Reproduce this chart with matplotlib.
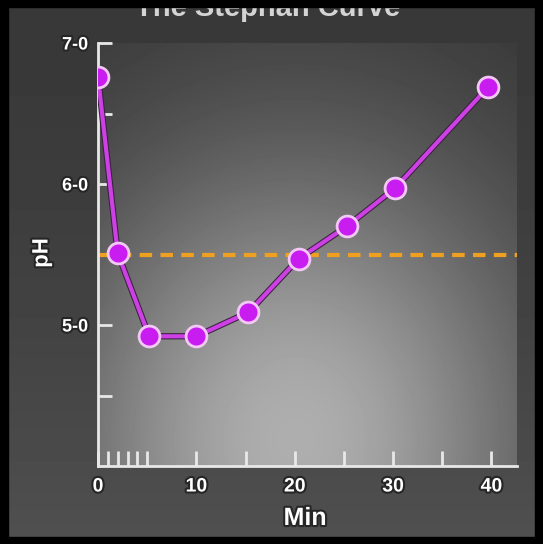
import matplotlib
matplotlib.use("Agg")
import matplotlib.pyplot as plt
import matplotlib.patheffects as pe
from matplotlib.patches import Rectangle
import numpy as np

# data
minutes = [0, 2, 5.2, 10, 15.3, 20.4, 25.3, 30.2, 39.7]
ph = [6.76, 5.51, 4.92, 4.92, 5.09, 5.47, 5.70, 5.97, 6.69]
critical_ph = 5.5
x_major = [0, 10, 20, 30, 40]
x_minor = [1, 2, 3, 4, 5, 15, 25, 35]
y_major = [5.0, 6.0, 7.0]
y_labels = ['5-0', '6-0', '7-0']
y_minor = [4.5, 6.5]
title = 'The Stephan Curve'

W, H = 543, 544
fig = plt.figure(figsize=(W / 100, H / 100), dpi=100)
fonts = ['Liberation Sans Narrow', 'Liberation Sans', 'DejaVu Sans']
shadow = [pe.withStroke(linewidth=3, foreground='#262626')]

# whole-figure dark background
bg = fig.add_axes([0, 0, 1, 1], zorder=0)
yy, xx = np.mgrid[0:H, 0:W]
outside = 56 + 24 * (yy / H) ** 1.5
bg.imshow(outside, cmap='gray', vmin=0, vmax=255, aspect='auto')
bg.axis('off')

# axes placed to match the picture (pixels)
left, right, top, bottom = 98, 517, 43, 466
ax = fig.add_axes([left / W, 1 - bottom / H, (right - left) / W, (bottom - top) / H], zorder=1)
ax.set_xlim(0, 42.6)
ax.set_ylim(4.0, 7.0)

# radial light in the plotting area
py, px = np.mgrid[top:bottom, left:right]
f = np.exp(-(((px - 295) / 250.0) ** 2 + ((py - 440) / 290.0) ** 2))
inner = 52 + 122 * f
ax.imshow(inner, cmap='gray', vmin=0, vmax=255, aspect='auto',
          extent=[0, 42.6, 4.0, 7.0], origin='upper', zorder=0)
ax.set_facecolor('none')

ax.axhline(critical_ph, color='#f0a020', lw=3, dashes=(3, 2), zorder=2)
ax.plot(minutes, ph, color='#cc40e4', lw=3, zorder=3,
        path_effects=[pe.Stroke(linewidth=4.5, foreground='#3a2040'), pe.Normal()])
ax.plot(minutes, ph, 'o', ms=15, mfc='#c81cf0', mec='#f2c8f4', mew=2, zorder=4)

for s in ['top', 'right']:
    ax.spines[s].set_visible(False)
for s in ['left', 'bottom']:
    ax.spines[s].set_color('#e8e8e8')
    ax.spines[s].set_linewidth(2)

ax.set_xticks(x_major)
ax.set_xticks(x_minor, minor=True)
ax.set_yticks(y_major)
ax.set_yticklabels(y_labels)
ax.set_yticks(y_minor, minor=True)
ax.tick_params(which='both', direction='in', color='#e8e8e8', width=2, length=10)
ax.tick_params(axis='x', which='both', length=11, pad=9)
ax.tick_params(axis='y', which='both', pad=7)

for lab in ax.get_xticklabels():
    lab.set_fontfamily(fonts)
    lab.set_fontsize(14)
    lab.set_fontweight('bold')
    lab.set_color('white')
    lab.set_path_effects(shadow)
for lab in ax.get_yticklabels():
    lab.set_fontfamily(fonts)
    lab.set_fontsize(13)
    lab.set_fontweight('bold')
    lab.set_color('white')
    lab.set_path_effects(shadow)

fig.text(305 / W, 1 - 518 / H, 'Min', ha='center', va='center', fontsize=18,
         fontweight='bold', color='white', family=fonts, path_effects=shadow)
fig.text(42 / W, 1 - 253 / H, 'pH', ha='center', va='center', rotation=90, fontsize=16,
         fontweight='bold', color='white', family=fonts, path_effects=shadow)
fig.text(268 / W, 1 - 16 / H, title, ha='center', va='baseline', fontsize=21,
         fontweight='bold', color='#d4d4d4', family=fonts)

# black frame
for r in [(0, 0, 8 / W, 1), (1 - 8 / W, 0, 8 / W, 1), (0, 1 - 7 / H, 1, 7 / H), (0, 0, 1, 7 / H)]:
    fig.add_artist(Rectangle(r[:2], r[2], r[3], transform=fig.transFigure,
                             color='black', zorder=10))

fig.savefig('out.png', dpi=100)
